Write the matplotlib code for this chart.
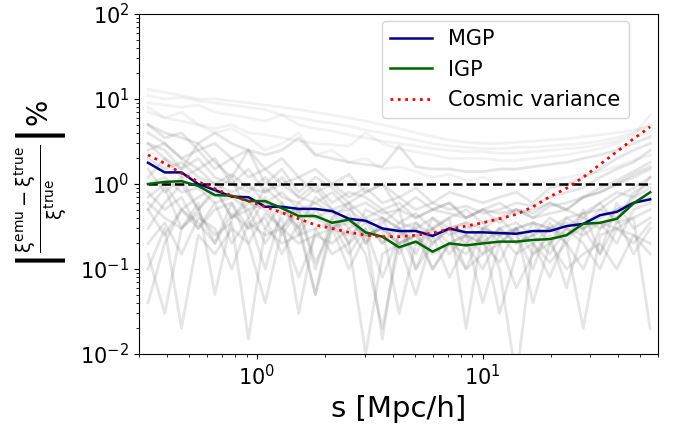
import matplotlib
matplotlib.use("Agg")
import numpy as np
import matplotlib.pyplot as plt

# separation bins (Mpc/h)
s = [0.329, 0.390, 0.463, 0.549, 0.651, 0.773, 0.917, 1.088, 1.290, 1.531,
     1.816, 2.154, 2.556, 3.032, 3.597, 4.266, 5.061, 6.004, 7.123, 8.45,
     10.02, 11.89, 14.11, 16.73, 19.85, 23.55, 27.94, 33.15, 39.32, 46.65, 55.3]

# mean relative errors in %
mgp = [1.78, 1.37, 1.37, 1.0, 0.85, 0.71, 0.70, 0.54, 0.54, 0.51,
       0.51, 0.48, 0.39, 0.37, 0.30, 0.28, 0.28, 0.245, 0.30, 0.27,
       0.27, 0.265, 0.26, 0.28, 0.28, 0.32, 0.34, 0.43, 0.47, 0.60, 0.66]
igp = [1.0, 1.06, 1.08, 0.95, 0.74, 0.73, 0.63, 0.63, 0.52, 0.42,
       0.42, 0.35, 0.38, 0.27, 0.24, 0.18, 0.21, 0.16, 0.20, 0.19,
       0.20, 0.21, 0.21, 0.22, 0.225, 0.25, 0.34, 0.35, 0.39, 0.59, 0.80]
cosmic = [2.2, 1.75, 1.34, 1.07, 0.88, 0.73, 0.63, 0.54, 0.46, 0.39,
          0.33, 0.30, 0.27, 0.25, 0.24, 0.24, 0.25, 0.265, 0.295, 0.32,
          0.35, 0.39, 0.44, 0.54, 0.71, 0.89, 1.2, 1.7, 2.4, 3.4, 4.7]

# individual test cosmologies (read roughly off the background)
gray_runs = [
    [13, 12, 11, 10, 10, 9.5, 9, 8.5, 8, 7.5, 7, 6.5, 6, 5.5, 5, 4.5, 4, 3.6, 3.3, 3.1, 3.0, 3.0, 3.1, 3.2, 3.3, 3.4, 3.6, 3.8, 4.0, 4.3, 4.8],
    [11, 10, 10.5, 9.5, 9, 8.5, 8, 7.5, 6.5, 6, 5.5, 5.2, 4.8, 4.3, 4, 3.6, 3.3, 3.0, 2.8, 2.7, 2.6, 2.6, 2.7, 2.7, 2.8, 2.9, 3.0, 3.2, 3.5, 4.0, 5.0],
    [9, 8.5, 8, 8.5, 7, 6.5, 6, 5.5, 6.5, 5, 4.5, 4.2, 3.8, 3.5, 3.2, 3.0, 2.8, 2.6, 2.5, 2.4, 2.4, 2.3, 2.3, 2.4, 2.5, 2.6, 2.7, 2.9, 3.2, 3.8, 6.5],
    [7, 6, 5.5, 5, 4.5, 5, 4, 3.8, 3.5, 3.2, 3, 2.9, 2.8, 4.0, 3.0, 2.6, 2.4, 2.2, 2.0, 2.0, 2.0, 1.9, 1.9, 2.0, 2.1, 2.2, 2.4, 2.6, 3.0, 3.5, 4.2],
    [5, 4, 3.5, 3, 4, 3, 2.5, 2.2, 2.5, 3.5, 2.2, 2, 1.8, 1.7, 1.6, 2.8, 1.6, 1.5, 1.5, 1.4, 1.4, 1.5, 1.5, 1.6, 1.7, 1.8, 2.0, 2.2, 2.5, 3.0, 3.6],
    [3, 2.5, 1.5, 2, 1.2, 1, 0.8, 1.2, 0.7, 0.6, 0.9, 0.5, 0.6, 0.4, 0.5, 0.35, 0.45, 0.3, 0.4, 0.5, 0.35, 0.4, 0.5, 0.45, 0.6, 0.5, 0.7, 0.8, 1.0, 1.2, 1.5],
    [1.5, 0.8, 1.2, 0.5, 0.9, 0.4, 0.7, 0.3, 0.6, 0.25, 0.5, 0.3, 0.45, 0.2, 0.4, 0.15, 0.35, 0.2, 0.3, 0.1, 0.3, 0.25, 0.15, 0.35, 0.2, 0.4, 0.3, 0.5, 0.4, 0.7, 0.9],
    [0.5, 0.9, 0.3, 0.6, 0.05, 0.4, 0.5, 0.2, 0.4, 0.03, 0.3, 0.35, 0.15, 0.3, 0.08, 0.25, 0.3, 0.1, 0.2, 0.25, 0.04, 0.2, 0.3, 0.15, 0.25, 0.06, 0.3, 0.35, 0.2, 0.5, 0.6],
    [0.04, 0.2, 0.5, 0.3, 0.6, 0.2, 0.4, 0.1, 0.5, 0.3, 0.05, 0.4, 0.2, 0.3, 0.015, 0.3, 0.2, 0.25, 0.08, 0.2, 0.3, 0.1, 0.005, 0.2, 0.3, 0.2, 0.1, 0.3, 0.4, 0.15, 0.3],
    [2, 1.5, 1.8, 1.2, 1.0, 1.3, 0.9, 0.8, 1.0, 0.7, 0.6, 0.8, 0.5, 0.6, 0.45, 0.5, 0.4, 0.5, 0.45, 0.4, 0.5, 0.45, 0.5, 0.4, 0.55, 0.6, 0.7, 0.9, 1.1, 1.4, 1.8],
    [1.0, 1.2, 0.8, 0.9, 0.6, 0.7, 0.5, 0.6, 0.45, 0.5, 0.4, 0.3, 0.35, 0.25, 0.3, 0.2, 0.25, 0.3, 0.2, 0.25, 0.2, 0.3, 0.2, 0.25, 0.3, 0.35, 0.3, 0.4, 0.5, 0.6, 0.8],
    [0.15, 0.03, 0.3, 0.5, 0.2, 0.6, 0.3, 0.7, 0.25, 0.5, 0.1, 0.4, 0.6, 0.2, 0.35, 0.5, 0.1, 0.3, 0.4, 0.02, 0.3, 0.4, 0.25, 0.1, 0.35, 0.2, 0.5, 0.15, 0.6, 0.3, 0.4],
    [4, 3, 2, 2.5, 1.5, 2, 1.2, 1.5, 1, 1.2, 0.8, 1, 0.7, 0.9, 0.6, 0.7, 0.5, 0.6, 0.5, 0.55, 0.45, 0.5, 0.6, 0.55, 0.7, 0.8, 0.9, 1.2, 1.5, 1.8, 2.5],
    [0.8, 0.5, 0.7, 0.3, 0.5, 0.6, 0.2, 0.45, 0.3, 0.5, 0.12, 0.3, 0.4, 0.25, 0.3, 0.03, 0.2, 0.3, 0.15, 0.25, 0.2, 0.12, 0.3, 0.2, 0.08, 0.25, 0.3, 0.15, 0.35, 0.4, 0.5],
    [0.3, 0.6, 1.0, 0.5, 0.8, 1.2, 0.4, 0.9, 0.6, 0.3, 0.7, 0.5, 0.2, 0.5, 0.4, 0.3, 0.15, 0.4, 0.3, 0.35, 0.2, 0.3, 0.35, 0.25, 0.4, 0.3, 0.45, 0.6, 0.35, 0.8, 1.0],
    [2.5, 3, 2, 1.5, 2, 1, 1.5, 0.8, 1.2, 0.7, 1, 0.6, 0.8, 0.7, 0.5, 0.6, 0.4, 0.5, 0.6, 0.4, 0.5, 0.35, 0.5, 0.4, 0.45, 0.5, 0.4, 0.6, 0.8, 0.7, 1.2],
    [0.6, 0.4, 0.3, 0.45, 0.25, 0.35, 0.015, 0.3, 0.2, 0.25, 0.3, 0.15, 0.2, 0.01, 0.15, 0.2, 0.25, 0.1, 0.2, 0.15, 0.25, 0.03, 0.15, 0.2, 0.12, 0.2, 0.02, 0.25, 0.3, 0.2, 0.35],
    [5, 3.5, 4, 2.5, 3, 2, 2.5, 1.5, 2, 1.2, 1.5, 1.0, 1.3, 0.8, 1.0, 0.7, 0.9, 0.6, 0.8, 0.7, 0.6, 0.7, 0.8, 0.6, 0.9, 1.0, 1.2, 1.5, 2, 2.5, 3],
    [0.2, 0.35, 0.15, 0.4, 0.3, 0.1, 0.35, 0.25, 0.3, 0.08, 0.25, 0.2, 0.3, 0.15, 0.02, 0.2, 0.25, 0.15, 0.2, 0.1, 0.15, 0.2, 0.06, 0.15, 0.2, 0.1, 0.15, 0.2, 0.1, 0.25, 0.15],
    [1.2, 2, 1.5, 3, 1.8, 1.2, 2.5, 1.0, 1.5, 0.8, 1.2, 0.9, 0.6, 0.8, 1.0, 0.5, 0.7, 0.5, 0.6, 0.4, 0.5, 0.6, 0.45, 0.5, 0.6, 0.5, 0.7, 0.8, 1.0, 1.3, 1.6],
    [0.7, 1.0, 0.5, 0.7, 0.9, 0.4, 0.6, 0.5, 0.3, 0.6, 0.4, 0.5, 0.3, 0.4, 0.2, 0.35, 0.3, 0.4, 0.25, 0.3, 0.35, 0.2, 0.3, 0.35, 0.3, 0.25, 0.4, 0.3, 0.5, 0.6, 0.7],
    [0.1, 0.3, 0.02, 0.25, 0.15, 0.3, 0.2, 0.04, 0.3, 0.2, 0.25, 0.3, 0.1, 0.25, 0.3, 0.2, 0.05, 0.25, 0.3, 0.2, 0.1, 0.25, 0.3, 0.04, 0.2, 0.3, 0.2, 0.1, 0.3, 0.25, 0.2],
    [3, 2, 1.2, 1.5, 1, 0.8, 1.0, 0.6, 0.8, 0.5, 0.6, 0.45, 0.5, 0.35, 0.4, 0.3, 0.35, 0.25, 0.3, 0.35, 0.3, 0.25, 0.3, 0.35, 0.3, 0.4, 0.45, 0.5, 0.7, 0.9, 1.2],
    [8, 6, 7, 5, 4, 4.5, 3.5, 2.5, 3, 4, 2.2, 2.5, 1.8, 2, 1.5, 1.6, 1.4, 1.2, 1.3, 1.1, 1.2, 1.0, 1.1, 1.0, 1.1, 1.2, 1.3, 1.4, 1.6, 1.9, 2.2],
    [0.5, 0.25, 0.5, 0.35, 0.2, 0.45, 0.3, 0.4, 0.15, 0.35, 0.05, 0.3, 0.25, 0.35, 0.2, 0.3, 0.1, 0.2, 0.3, 0.25, 0.15, 0.3, 0.2, 0.25, 0.15, 0.3, 0.25, 0.35, 0.3, 0.4, 0.02],
]

fig = plt.figure(figsize=(6.76, 4.25), dpi=100)
ax = fig.add_axes([0.2056, 0.167, 0.768, 0.8])

# background runs: the upper ones are fainter than the bulk
for run in gray_runs:
    a = 0.1 if max(run) > 6 else 0.2
    ax.plot(s, run, color='gray', alpha=a, lw=2)

ax.plot(s, np.ones(len(s)), 'k--', lw=1.8)
ax.plot(s, mgp, color='darkblue', lw=1.8, label='MGP')
ax.plot(s, igp, color='darkgreen', lw=1.8, label='IGP')
ax.plot(s, cosmic, color='red', ls=':', lw=2, label='Cosmic variance')

ax.set_xscale('log')
ax.set_yscale('log')
ax.set_xlim(0.3, 60)
ax.set_ylim(1e-2, 1e2)
ax.tick_params(labelsize=15)

ax.set_xlabel('s [Mpc/h]', fontsize=21)
ax.set_ylabel(r'$\left|\frac{\mathrm{\xi}^{\rm emu}-\mathrm{\xi}^{\rm true}}{\mathrm{\xi}^{\rm true}}\right|\%$',
              fontsize=20)
ax.yaxis.set_label_coords(-0.135, 0.5)

ax.legend(fontsize=15, loc='upper right', bbox_to_anchor=(0.944, 0.98), borderaxespad=0)

plt.savefig('out.png', dpi=100)
